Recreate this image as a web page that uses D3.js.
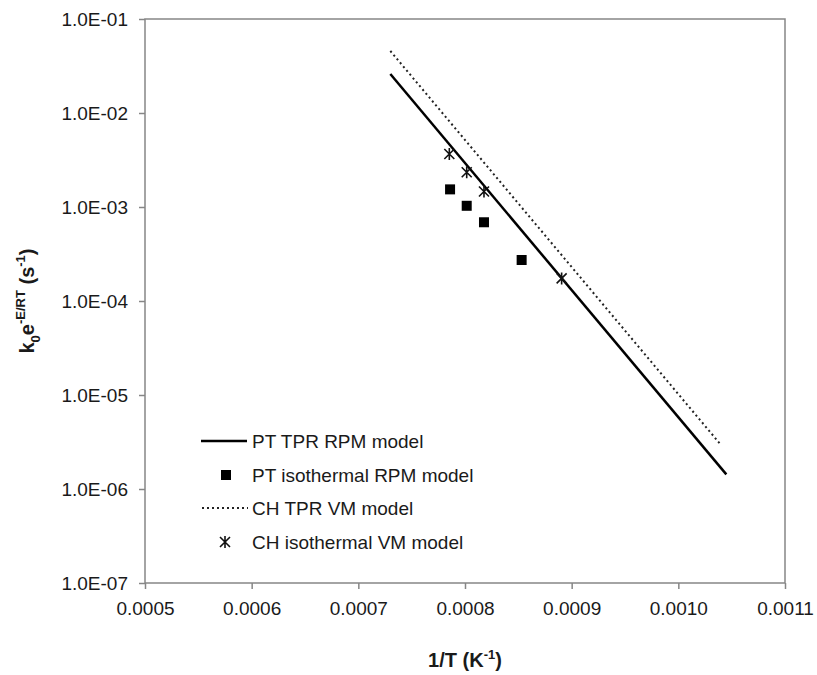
<!DOCTYPE html>
<html>
<head>
<meta charset="utf-8">
<script src="https://cdn.jsdelivr.net/npm/d3@7"></script>
<style>
  body { margin: 0; background: #fff; }
  svg { font-family: "Liberation Sans", Arial, sans-serif; }
</style>
</head>
<body>
<script>
// data
var ptTprX = [0.00073, 0.001045];
var ptTprY = [0.026, 1.43e-6];
var chTprX = [0.00073, 0.00104];
var chTprY = [0.0457, 2.94e-6];
var ptIsoX = [0.000786, 0.0008016, 0.0008178, 0.0008531];
var ptIsoY = [1.54e-3, 1.03e-3, 6.88e-4, 2.73e-4];
var chIsoX = [0.0007853, 0.0008016, 0.0008178, 0.0008906];
var chIsoY = [3.66e-3, 2.34e-3, 1.46e-3, 1.74e-4];
var xTicks = [0.0005, 0.0006, 0.0007, 0.0008, 0.0009, 0.0010, 0.0011];
var yTicks = [1e-7, 1e-6, 1e-5, 1e-4, 1e-3, 1e-2, 1e-1];
var legendLabels = ["PT TPR RPM model", "PT isothermal RPM model", "CH TPR VM model", "CH isothermal VM model"];

// plot area
var LEFT = 145, TOP = 19;
var width = 640, height = 564;

var svg = d3.select("body").append("svg")
  .attr("width", 817)
  .attr("height", 675);

var g = svg.append("g").attr("transform", "translate(" + LEFT + "," + TOP + ")");

var x = d3.scaleLinear().domain([0.0005, 0.0011]).range([0, width]);
var y = d3.scaleLog().domain([1e-7, 1e-1]).range([height, 0]);

var axisColor = "#868686";

// box
g.append("rect")
  .attr("width", width).attr("height", height)
  .attr("fill", "none").attr("stroke", axisColor).attr("stroke-width", 1.5);

// x axis
var xAxis = g.append("g")
  .attr("transform", "translate(0," + height + ")")
  .call(d3.axisBottom(x).tickValues(xTicks).tickSize(6).tickPadding(13)
    .tickFormat(function (d) { return d.toFixed(4); }));
xAxis.select(".domain").remove();
xAxis.selectAll("line").attr("stroke", axisColor).attr("stroke-width", 1.5);
xAxis.selectAll("text").attr("font-size", 19).attr("fill", "#1a1a1a")
  .style("font-family", "Liberation Sans, Arial, sans-serif");

// y axis
var yAxis = g.append("g")
  .call(d3.axisLeft(y).tickValues(yTicks).tickSize(6).tickPadding(11)
    .tickFormat(function (d) {
      var e = Math.round(Math.log10(d));
      return "1.0E-" + (e < -9 ? "" : "0") + (-e);
    }));
yAxis.select(".domain").remove();
yAxis.selectAll("line").attr("stroke", axisColor).attr("stroke-width", 1.5);
yAxis.selectAll("text").attr("font-size", 19).attr("fill", "#1a1a1a")
  .style("font-family", "Liberation Sans, Arial, sans-serif");

// lines
var line = d3.line()
  .x(function (d) { return x(d[0]); })
  .y(function (d) { return y(d[1]); });

g.append("path")
  .datum(d3.zip(ptTprX, ptTprY))
  .attr("d", line)
  .attr("fill", "none").attr("stroke", "#000").attr("stroke-width", 2.5);

g.append("path")
  .datum(d3.zip(chTprX, chTprY))
  .attr("d", line)
  .attr("fill", "none").attr("stroke", "#222").attr("stroke-width", 2)
  .attr("stroke-dasharray", "2,3");

// markers
var sq = 10;
g.selectAll("rect.pt")
  .data(d3.zip(ptIsoX, ptIsoY))
  .enter().append("rect")
  .attr("class", "pt")
  .attr("x", function (d) { return x(d[0]) - sq / 2; })
  .attr("y", function (d) { return y(d[1]) - sq / 2; })
  .attr("width", sq).attr("height", sq)
  .attr("fill", "#000");

var star = "M-5,-5L5,5M-5,5L5,-5M0,-6L0,6";
g.selectAll("path.ch")
  .data(d3.zip(chIsoX, chIsoY))
  .enter().append("path")
  .attr("class", "ch")
  .attr("transform", function (d) { return "translate(" + x(d[0]) + "," + y(d[1]) + ")"; })
  .attr("d", star)
  .attr("fill", "none").attr("stroke", "#111").attr("stroke-width", 1.6);

// legend
var legendY = [441, 475, 508, 542];
var lg = svg.append("g");
legendLabels.forEach(function (label, i) {
  var yy = legendY[i];
  if (i === 0) {
    lg.append("line").attr("x1", 201).attr("x2", 247).attr("y1", yy).attr("y2", yy)
      .attr("stroke", "#000").attr("stroke-width", 2.5);
  } else if (i === 1) {
    lg.append("rect").attr("x", 226 - sq / 2).attr("y", yy - sq / 2)
      .attr("width", sq).attr("height", sq).attr("fill", "#000");
  } else if (i === 2) {
    lg.append("line").attr("x1", 202).attr("x2", 248).attr("y1", yy).attr("y2", yy)
      .attr("stroke", "#222").attr("stroke-width", 2).attr("stroke-dasharray", "2,3");
  } else {
    lg.append("path").attr("transform", "translate(225," + yy + ")")
      .attr("d", star).attr("fill", "none").attr("stroke", "#111").attr("stroke-width", 1.6);
  }
  lg.append("text")
    .attr("x", 252).attr("y", yy)
    .attr("dy", "0.35em")
    .attr("font-size", 19)
    .attr("fill", "#1a1a1a")
    .text(label);
});

// axis titles
svg.append("text")
  .attr("x", LEFT + width / 2).attr("y", 667)
  .attr("text-anchor", "middle")
  .attr("font-size", 20).attr("font-weight", "bold").attr("fill", "#1a1a1a")
  .html('1/T (K<tspan dy="-8" font-size="13">-1</tspan><tspan dy="8">)</tspan>');

svg.append("text")
  .attr("transform", "translate(34," + (TOP + height / 2) + ") rotate(-90)")
  .attr("text-anchor", "middle")
  .attr("font-size", 20).attr("font-weight", "bold").attr("fill", "#1a1a1a")
  .html('k<tspan dy="6" font-size="13">0</tspan><tspan dy="-6">e</tspan>' +
        '<tspan dy="-9" font-size="13">-E/RT</tspan><tspan dy="9"> (s</tspan>' +
        '<tspan dy="-9" font-size="13">-1</tspan><tspan dy="9">)</tspan>');
</script>
</body>
</html>
